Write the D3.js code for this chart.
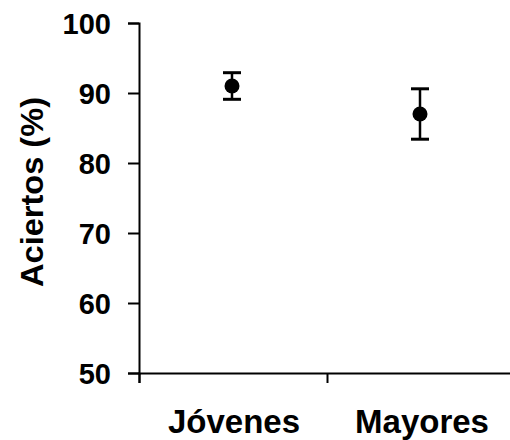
<!DOCTYPE html>
<html>
<head>
<meta charset="utf-8">
<script src="https://cdn.jsdelivr.net/npm/d3@7"></script>
<style>
	body { margin: 0; background: #fff; }
	svg text { font-family: "Liberation Sans", Arial, sans-serif; font-weight: bold; fill: #000; }
</style>
</head>
<body>
<svg id="chart" width="510" height="440"></svg>
<script>
// datos
var grupos = ['Jóvenes', 'Mayores'];
var aciertos = [91, 87];
var error = [1.9, 3.6];
var yTicks = [50, 60, 70, 80, 90, 100];

var svg = d3.select('#chart');

var x = d3.scaleBand()
	.domain(grupos)
	.range([139, 515]);

var y = d3.scaleLinear()
	.domain([50, 100])
	.range([373, 23]);

// eje y
var ay = svg.append('g')
	.attr('transform', 'translate(' + x.range()[0] + ',0)')
	.call(d3.axisLeft(y).tickValues(yTicks).tickSizeOuter(0).tickSize(11).tickPadding(17));
ay.select('.domain').attr('stroke-width', 2).attr('stroke', '#000');
ay.selectAll('.tick line').attr('stroke-width', 2).attr('stroke', '#000');
ay.selectAll('.tick text').attr('font-size', 29).attr('dy', '0.36em');

// eje x (marcas entre grupos)
var xb = d3.scaleLinear().domain([0, grupos.length]).range(x.range());
var ax = svg.append('g')
	.attr('transform', 'translate(0,' + y(50) + ')')
	.call(d3.axisBottom(xb).tickValues(d3.range(grupos.length + 1)).tickFormat('').tickSizeOuter(0).tickSize(10));
ax.select('.domain').attr('stroke-width', 2).attr('stroke', '#000');
ax.selectAll('.tick line').attr('stroke-width', 2).attr('stroke', '#000');

svg.append('g').selectAll('text')
	.data(grupos)
	.enter()
	.append('text')
	.attr('x', function (d) { return x(d) + x.bandwidth() / 2 + 1; })
	.attr('y', 433)
	.attr('text-anchor', 'middle')
	.attr('font-size', 33)
	.text(function (d) { return d; });

// titulo eje y
svg.append('text')
	.attr('transform', 'translate(43,192) rotate(-90)')
	.attr('text-anchor', 'middle')
	.attr('font-size', 31)
	.attr('textLength', 190)
	.attr('lengthAdjust', 'spacingAndGlyphs')
	.text('Aciertos (%)');

// barras de error y puntos
var pts = svg.append('g').selectAll('g')
	.data(grupos)
	.enter()
	.append('g')
	.attr('transform', function (d) { return 'translate(' + (x(d) + x.bandwidth() / 2 - 1) + ',0)'; });

pts.append('line')
	.attr('y1', function (d, i) { return y(aciertos[i] + error[i]); })
	.attr('y2', function (d, i) { return y(aciertos[i] - error[i]); })
	.attr('stroke', '#000')
	.attr('stroke-width', 2.5);

pts.append('line')
	.attr('x1', -9).attr('x2', 9)
	.attr('y1', function (d, i) { return y(aciertos[i] + error[i]); })
	.attr('y2', function (d, i) { return y(aciertos[i] + error[i]); })
	.attr('stroke', '#000')
	.attr('stroke-width', 3);

pts.append('line')
	.attr('x1', -9).attr('x2', 9)
	.attr('y1', function (d, i) { return y(aciertos[i] - error[i]); })
	.attr('y2', function (d, i) { return y(aciertos[i] - error[i]); })
	.attr('stroke', '#000')
	.attr('stroke-width', 3);

pts.append('circle')
	.attr('cy', function (d, i) { return y(aciertos[i]); })
	.attr('r', 7.5)
	.attr('fill', '#000');
</script>
</body>
</html>
